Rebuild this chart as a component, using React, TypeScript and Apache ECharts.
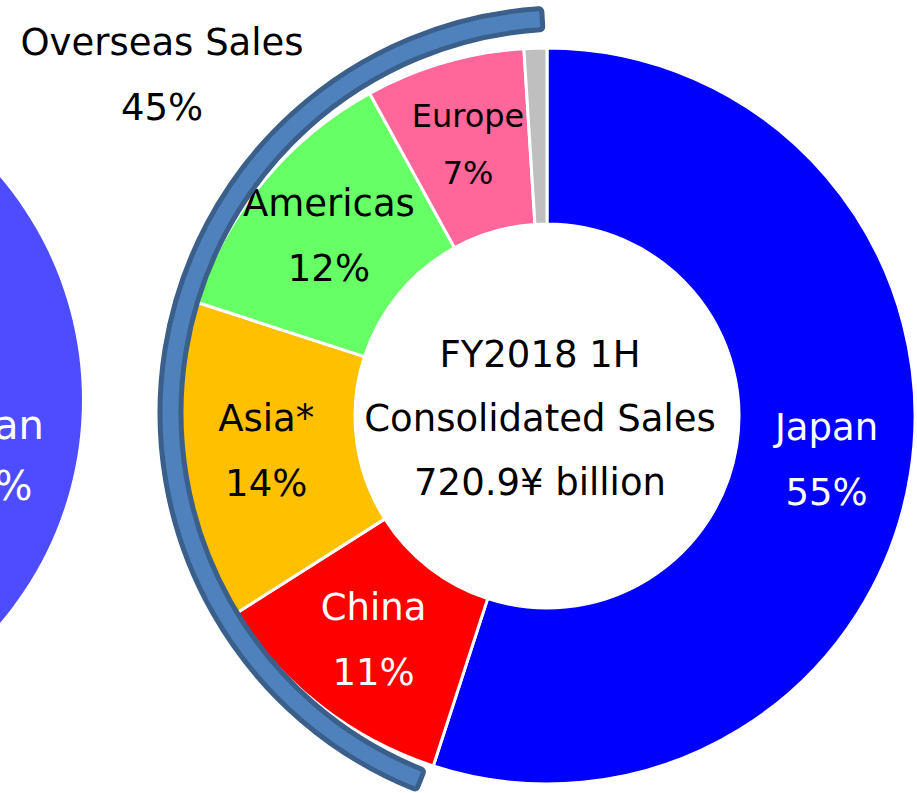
import React, { useEffect, useRef } from 'react';
import * as echarts from 'echarts';

// Main donut: FY2018 1H consolidated sales by region (%)
const regions = ['Japan', 'China', 'Asia*', 'Americas', 'Europe', 'Other'];
const shares = [55, 11, 14, 12, 7, 1];
const sliceColors = ['#0000ff', '#ff0000', '#ffc000', '#66ff66', '#ff6699', '#bfbfbf'];
const labelColors = ['#ffffff', '#ffffff', '#000000', '#000000', '#000000', '#000000'];
const showLabel = [true, true, true, true, true, false];

// Centre caption
const centerLines = ['FY2018 1H', 'Consolidated Sales', '720.9¥ billion'];

// Overseas bracket caption
const overseasName = 'Overseas Sales';
const overseasShare = 45;

// Partially visible previous pie on the left edge
const prevNames = ['Japan'];
const prevShares = [55];

const FONT = 'DejaVu Sans';

function buildOption(): echarts.EChartsOption {
  const deg = Math.PI / 180;
  return {
    animation: false,
    backgroundColor: '#ffffff',
    series: [
      {
        type: 'pie',
        name: 'prev',
        center: [-262, 400],
        radius: [0, 344],
        silent: true,
        z: 1,
        label: { show: false },
        labelLine: { show: false },
        emphasis: { disabled: true },
        data: prevNames.map((n, i) => ({
          name: n,
          value: prevShares[i],
          itemStyle: { color: '#4d4dff' },
        })),
      },
      {
        type: 'pie',
        name: 'sales',
        center: [547, 416],
        radius: [192, 368],
        startAngle: 90,
        clockwise: true,
        silent: true,
        avoidLabelOverlap: false,
        labelLayout: { hideOverlap: false },
        emphasis: { disabled: true },
        itemStyle: { borderColor: '#ffffff', borderWidth: 3 },
        labelLine: { show: false },
        label: {
          show: true,
          position: 'inside',
          fontFamily: FONT,
          fontSize: 37,
          lineHeight: 65,
          formatter: (p: any) => `${p.name}\n${p.value}%`,
        },
        data: regions.map((n, i) => ({
          name: n,
          value: shares[i],
          itemStyle: { color: sliceColors[i] },
          label:
            n === 'Europe'
              ? { show: true, color: labelColors[i], fontSize: 32, lineHeight: 57 }
              : { show: showLabel[i], color: labelColors[i] },
        })),
      },
    ],
    graphic: [
      {
        type: 'sector',
        silent: true,
        z: 10,
        shape: {
          cx: 565,
          cy: 413,
          r0: 384,
          r: 405,
          startAngle: (201.5 - 90) * deg,
          endAngle: (356.7 - 90) * deg,
          clockwise: true,
          cornerRadius: 3,
        },
        style: { fill: '#4f81bd', stroke: '#3a5f8b', lineWidth: 5 },
      },
      {
        type: 'text',
        silent: true,
        z: 100,
        x: 540,
        y: 418,
        style: {
          text: centerLines.join('\n'),
          fill: '#000000',
          fontFamily: FONT,
          fontSize: 37,
          lineHeight: 64,
          align: 'center',
          verticalAlign: 'middle',
        },
      },
      {
        type: 'text',
        silent: true,
        z: 100,
        x: 162,
        y: 75,
        style: {
          text: `${overseasName}\n${overseasShare}%`,
          fill: '#000000',
          fontFamily: FONT,
          fontSize: 37,
          lineHeight: 65,
          align: 'center',
          verticalAlign: 'middle',
        },
      },
      {
        type: 'text',
        silent: true,
        z: 100,
        x: -12,
        y: 455,
        style: {
          text: `${prevNames[0]}\n${prevShares[0]}%`,
          fill: '#ffffff',
          fontFamily: FONT,
          fontSize: 40,
          lineHeight: 61,
          align: 'center',
          verticalAlign: 'middle',
        },
      },
    ],
  };
}

export default function App() {
  const ref = useRef<HTMLDivElement>(null);
  useEffect(() => {
    if (!ref.current) return;
    const chart = echarts.init(ref.current, null, { renderer: 'svg' });
    chart.setOption(buildOption());
    return () => chart.dispose();
  }, []);
  return (
    <div
      ref={ref}
      style={{ position: 'fixed', left: 0, top: 0, width: 917, height: 793, background: '#ffffff' }}
    />
  );
}
